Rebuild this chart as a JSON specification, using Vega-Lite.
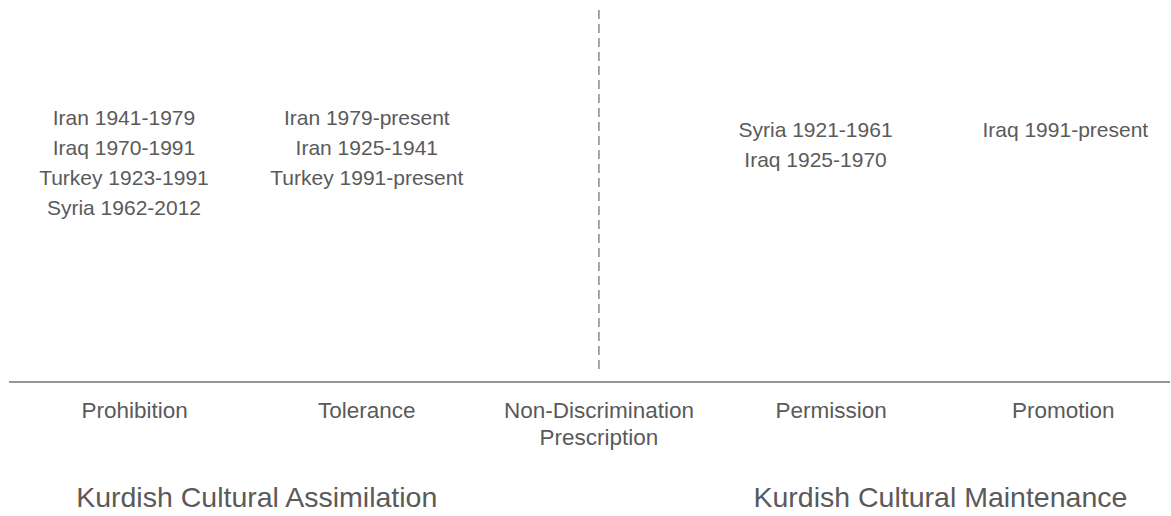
{
  "$schema": "https://vega.github.io/schema/vega-lite/v6.json",
  "width": 1171,
  "height": 516,
  "padding": 0,
  "autosize": {"type": "fit", "contains": "padding"},
  "config": {"view": {"stroke": null}},
  "datasets": {
    "axisline": [{"from": 0.459, "to": 5.46, "level": 0}],
    "divider": [{"pos": 3.0, "top": 37.2, "bottom": 1.3}],
    "categories": [
      {"pos": 1.0, "level": -3.6, "label": "Prohibition"},
      {"pos": 2.0, "level": -3.6, "label": "Tolerance"},
      {"pos": 3.0, "level": -3.6, "label": "Non-Discrimination"},
      {"pos": 3.0, "level": -6.3, "label": "Prescription"},
      {"pos": 4.0, "level": -3.6, "label": "Permission"},
      {"pos": 5.0, "level": -3.6, "label": "Promotion"}
    ],
    "poles": [
      {"pos": 1.526, "level": -12.5, "label": "Kurdish Cultural Assimilation"},
      {"pos": 4.471, "level": -12.5, "label": "Kurdish Cultural Maintenance"}
    ],
    "periods": [
      {"pos": 0.954, "level": 25.7, "label": "Iran 1941-1979"},
      {"pos": 0.954, "level": 22.7, "label": "Iraq 1970-1991"},
      {"pos": 0.954, "level": 19.7, "label": "Turkey 1923-1991"},
      {"pos": 0.954, "level": 16.7, "label": "Syria 1962-2012"},
      {"pos": 2.0, "level": 25.7, "label": "Iran 1979-present"},
      {"pos": 2.0, "level": 22.7, "label": "Iran 1925-1941"},
      {"pos": 2.0, "level": 19.7, "label": "Turkey 1991-present"},
      {"pos": 3.933, "level": 24.5, "label": "Syria 1921-1961"},
      {"pos": 3.933, "level": 21.5, "label": "Iraq 1925-1970"},
      {"pos": 5.009, "level": 24.5, "label": "Iraq 1991-present"}
    ]
  },
  "layer": [
    {
      "data": {"name": "axisline"},
      "mark": {"type": "rule", "color": "#707070", "strokeWidth": 1.5},
      "encoding": {
        "x": {"field": "from", "type": "quantitative", "scale": {"domain": [0.42, 5.46], "nice": false, "zero": false}, "axis": null},
        "x2": {"field": "to"},
        "y": {"field": "level", "type": "quantitative", "scale": {"domain": [-13.4, 38.2], "nice": false, "zero": false}, "axis": null}
      }
    },
    {
      "data": {"name": "divider"},
      "mark": {"type": "rule", "color": "#8a8a8a", "strokeWidth": 1.5, "strokeDash": [9, 5]},
      "encoding": {
        "x": {"field": "pos", "type": "quantitative", "scale": {"domain": [0.42, 5.46], "nice": false, "zero": false}, "axis": null},
        "y": {"field": "top", "type": "quantitative", "scale": {"domain": [-13.4, 38.2], "nice": false, "zero": false}, "axis": null},
        "y2": {"field": "bottom"}
      }
    },
    {
      "data": {"name": "periods"},
      "mark": {"type": "text", "font": "Liberation Sans, Arial, sans-serif", "fontSize": 21, "color": "#5a5a5a", "align": "center", "baseline": "alphabetic"},
      "encoding": {
        "x": {"field": "pos", "type": "quantitative", "scale": {"domain": [0.42, 5.46], "nice": false, "zero": false}, "axis": null},
        "y": {"field": "level", "type": "quantitative", "scale": {"domain": [-13.4, 38.2], "nice": false, "zero": false}, "axis": null},
        "text": {"field": "label"}
      }
    },
    {
      "data": {"name": "categories"},
      "mark": {"type": "text", "font": "Liberation Sans, Arial, sans-serif", "fontSize": 22.5, "color": "#5a5a5a", "align": "center", "baseline": "alphabetic"},
      "encoding": {
        "x": {"field": "pos", "type": "quantitative", "scale": {"domain": [0.42, 5.46], "nice": false, "zero": false}, "axis": null},
        "y": {"field": "level", "type": "quantitative", "scale": {"domain": [-13.4, 38.2], "nice": false, "zero": false}, "axis": null},
        "text": {"field": "label"}
      }
    },
    {
      "data": {"name": "poles"},
      "mark": {"type": "text", "font": "Liberation Sans, Arial, sans-serif", "fontSize": 28.5, "color": "#5a5a5a", "align": "center", "baseline": "alphabetic"},
      "encoding": {
        "x": {"field": "pos", "type": "quantitative", "scale": {"domain": [0.42, 5.46], "nice": false, "zero": false}, "axis": null},
        "y": {"field": "level", "type": "quantitative", "scale": {"domain": [-13.4, 38.2], "nice": false, "zero": false}, "axis": null},
        "text": {"field": "label"}
      }
    }
  ]
}
